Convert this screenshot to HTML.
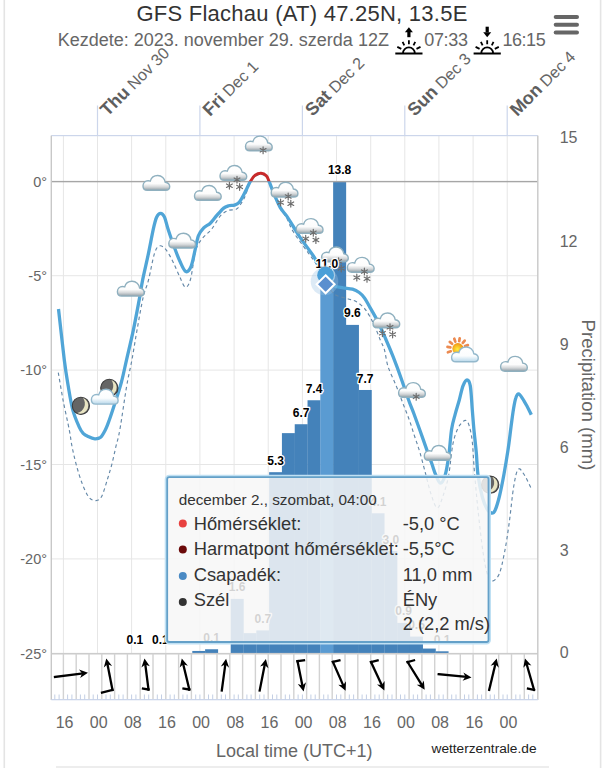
<!DOCTYPE html><html><head><meta charset="utf-8"><style>html,body{margin:0;padding:0;background:#fff;width:603px;height:768px;overflow:hidden}svg{display:block}text{font-family:"Liberation Sans",sans-serif}</style></head><body>
<svg width="603" height="768" viewBox="0 0 603 768">
<defs>
<linearGradient id="cg" x1="0" y1="0" x2="0" y2="1"><stop offset="0" stop-color="#fff"/><stop offset="0.55" stop-color="#fcfcfc"/><stop offset="0.78" stop-color="#d3d6d8"/><stop offset="1" stop-color="#8e9ca4"/></linearGradient>
<linearGradient id="cb" x1="0" y1="0" x2="0" y2="1"><stop offset="0" stop-color="#fff"/><stop offset="0.6" stop-color="#fbfdfe"/><stop offset="1" stop-color="#b7d7ea"/></linearGradient>
<radialGradient id="sun" cx="0.45" cy="0.55" r="0.6"><stop offset="0" stop-color="#ffef3a"/><stop offset="1" stop-color="#f08a10"/></radialGradient>
<clipPath id="above"><rect x="0" y="0" width="603" height="181.3"/></clipPath>
<clipPath id="below"><rect x="0" y="181.3" width="603" height="600"/></clipPath>
<symbol id="cloud" viewBox="0 0 28 16" overflow="visible"><path d="M4.8,15.3 C2,15.3 0.5,13.4 0.5,10.9 C0.5,8 2.7,5.7 5.6,5.7 C6.4,5.7 7.1,5.8 7.8,6.1 C8.7,2.7 11.6,0.5 15.2,0.5 C19.2,0.5 22.3,3.4 22.7,7.2 C25.4,7.6 27.2,9.6 27.2,11.6 C27.2,13.8 25.6,15.3 23.2,15.3 Z" fill="url(#cg)" stroke="#8fb0bf" stroke-width="1.4"/></symbol>
<symbol id="cloudb" viewBox="0 0 28 16" overflow="visible"><path d="M4.8,15.3 C2,15.3 0.5,13.4 0.5,10.9 C0.5,8 2.7,5.7 5.6,5.7 C6.4,5.7 7.1,5.8 7.8,6.1 C8.7,2.7 11.6,0.5 15.2,0.5 C19.2,0.5 22.3,3.4 22.7,7.2 C25.4,7.6 27.2,9.6 27.2,11.6 C27.2,13.8 25.6,15.3 23.2,15.3 Z" fill="url(#cb)" stroke="#93b8cc" stroke-width="1.4"/></symbol>
<symbol id="flake" viewBox="-4 -4 8 8" overflow="visible"><g stroke="#6d6d6d" stroke-width="1.2" stroke-linecap="round"><path d="M0,-3.4V3.4M-2.9,-1.7L2.9,1.7M-2.9,1.7L2.9,-1.7"/></g></symbol>
<symbol id="moon" viewBox="-10 -10 20 20" overflow="visible"><circle r="8.6" fill="#656565" stroke="#3c3c3c" stroke-width="1.1"/><path d="M2.2,-7.9 A8.1,8.1 0 1 1 -3.6,7.3 A9.85,9.85 0 0 0 2.2,-7.9 Z" fill="#e9e5c3"/></symbol>
</defs>
<rect x="3.5" y="0" width="1.6" height="768" fill="#e4e4e4"/>
<rect x="599.8" y="0" width="1.6" height="768" fill="#e4e4e4"/>
<rect x="56" y="766.3" width="493" height="1.4" fill="#e6e6e6"/>
<text x="302" y="20.8" text-anchor="middle" font-size="22" letter-spacing="0.25" fill="#333">GFS Flachau (AT) 47.25N, 13.5E</text>
<text x="57.7" y="45.6" font-size="18" fill="#666">Kezdete: 2023. november 29. szerda 12Z</text>
<g transform="translate(408.9,0)" stroke="#000" fill="none"><path d="M-4,32.3 L0,27.3 L4,32.3 Z" fill="#000" stroke="none"/><rect x="-1.6" y="31.5" width="3.2" height="5.7" fill="#000" stroke="none"/><g stroke-width="1.8"><path d="M0,40.2V44.2 M-6.3,41.9L-4.6,45.3 M6.3,41.9L4.6,45.3 M-11.6,46.9L-7.6,48.9 M11.6,46.9L7.6,48.9"/><path d="M-5.9,53.3 A5.9,5.9 0 0 1 5.9,53.3"/><path d="M-13.6,53.5H13.6" stroke-width="2"/></g></g>
<text x="424.2" y="45.6" font-size="18" fill="#666" textLength="43.8">07:33</text>
<g transform="translate(487.2,0)" stroke="#000" fill="none"><path d="M-4,32.2 L0,37.2 L4,32.2 Z" fill="#000" stroke="none"/><rect x="-1.6" y="26.7" width="3.2" height="5.7" fill="#000" stroke="none"/><g stroke-width="1.8"><path d="M0,40.2V44.2 M-6.3,41.9L-4.6,45.3 M6.3,41.9L4.6,45.3 M-11.6,46.9L-7.6,48.9 M11.6,46.9L7.6,48.9"/><path d="M-5.9,53.3 A5.9,5.9 0 0 1 5.9,53.3"/><path d="M-13.6,53.5H13.6" stroke-width="2"/></g></g>
<text x="502.4" y="45.6" font-size="18" fill="#666" textLength="43.3">16:15</text>
<rect x="553.7" y="14.9" width="25.3" height="4" rx="2" fill="#666"/>
<rect x="553.7" y="22.7" width="25.3" height="4" rx="2" fill="#666"/>
<rect x="553.7" y="30.6" width="25.3" height="4" rx="2" fill="#666"/>
<rect x="96.9" y="105.5" width="1.2" height="30.5" fill="#ccd6eb"/>
<text transform="translate(107.5,117) rotate(-45)" font-size="16.2" fill="#666"><tspan font-weight="bold" font-size="18" fill="#5e5e5e">Thu</tspan> Nov 30</text>
<rect x="199.3" y="105.5" width="1.2" height="30.5" fill="#ccd6eb"/>
<text transform="translate(209.9,117) rotate(-45)" font-size="16.2" fill="#666"><tspan font-weight="bold" font-size="18" fill="#5e5e5e">Fri</tspan> Dec 1</text>
<rect x="301.8" y="105.5" width="1.2" height="30.5" fill="#ccd6eb"/>
<text transform="translate(312.4,117) rotate(-45)" font-size="16.2" fill="#666"><tspan font-weight="bold" font-size="18" fill="#5e5e5e">Sat</tspan> Dec 2</text>
<rect x="404.2" y="105.5" width="1.2" height="30.5" fill="#ccd6eb"/>
<text transform="translate(414.8,117) rotate(-45)" font-size="16.2" fill="#666"><tspan font-weight="bold" font-size="18" fill="#5e5e5e">Sun</tspan> Dec 3</text>
<rect x="506.6" y="105.5" width="1.2" height="30.5" fill="#ccd6eb"/>
<text transform="translate(517.2,117) rotate(-45)" font-size="16.2" fill="#666"><tspan font-weight="bold" font-size="18" fill="#5e5e5e">Mon</tspan> Dec 4</text>
<rect x="62.9" y="135.6" width="1" height="518.1" fill="#e6e6e6"/>
<rect x="97.0" y="135.6" width="1" height="518.1" fill="#e6e6e6"/>
<rect x="131.1" y="135.6" width="1" height="518.1" fill="#e6e6e6"/>
<rect x="165.3" y="135.6" width="1" height="518.1" fill="#e6e6e6"/>
<rect x="199.4" y="135.6" width="1" height="518.1" fill="#e6e6e6"/>
<rect x="233.6" y="135.6" width="1" height="518.1" fill="#e6e6e6"/>
<rect x="267.7" y="135.6" width="1" height="518.1" fill="#e6e6e6"/>
<rect x="301.9" y="135.6" width="1" height="518.1" fill="#e6e6e6"/>
<rect x="336.0" y="135.6" width="1" height="518.1" fill="#e6e6e6"/>
<rect x="370.2" y="135.6" width="1" height="518.1" fill="#e6e6e6"/>
<rect x="404.3" y="135.6" width="1" height="518.1" fill="#e6e6e6"/>
<rect x="438.4" y="135.6" width="1" height="518.1" fill="#e6e6e6"/>
<rect x="472.6" y="135.6" width="1" height="518.1" fill="#e6e6e6"/>
<rect x="506.7" y="135.6" width="1" height="518.1" fill="#e6e6e6"/>
<rect x="51.3" y="275.2" width="486.5" height="1" fill="#e6e6e6"/>
<rect x="51.3" y="369.6" width="486.5" height="1" fill="#e6e6e6"/>
<rect x="51.3" y="464.0" width="486.5" height="1" fill="#e6e6e6"/>
<rect x="51.3" y="558.4" width="486.5" height="1" fill="#e6e6e6"/>
<rect x="192.30" y="650.96" width="13.00" height="2.74" fill="#4482ba"/>
<rect x="205.10" y="649.25" width="13.00" height="4.45" fill="#4482ba"/>
<rect x="230.71" y="598.90" width="13.00" height="54.80" fill="#4482ba"/>
<rect x="243.51" y="633.15" width="13.00" height="20.55" fill="#4482ba"/>
<rect x="256.32" y="630.41" width="13.00" height="23.29" fill="#4482ba"/>
<rect x="269.12" y="472.18" width="13.00" height="181.52" fill="#4482ba"/>
<rect x="281.92" y="433.13" width="13.00" height="220.57" fill="#4482ba"/>
<rect x="294.73" y="424.23" width="13.00" height="229.48" fill="#4482ba"/>
<rect x="307.53" y="400.25" width="13.00" height="253.45" fill="#4482ba"/>
<rect x="320.34" y="276.95" width="13.00" height="376.75" fill="#5a9bd2"/>
<rect x="333.14" y="181.05" width="13.00" height="472.65" fill="#4482ba"/>
<rect x="345.94" y="324.90" width="13.00" height="328.80" fill="#4482ba"/>
<rect x="358.75" y="389.98" width="13.00" height="263.73" fill="#4482ba"/>
<rect x="371.55" y="513.28" width="13.00" height="140.42" fill="#4482ba"/>
<rect x="384.36" y="550.95" width="13.00" height="102.75" fill="#4482ba"/>
<rect x="397.16" y="622.88" width="13.00" height="30.83" fill="#4482ba"/>
<rect x="409.96" y="636.58" width="13.00" height="17.12" fill="#4482ba"/>
<rect x="422.77" y="648.56" width="13.00" height="5.14" fill="#4482ba"/>
<rect x="435.57" y="651.30" width="13.00" height="2.40" fill="#4482ba"/>
<rect x="51.3" y="135.0" width="486.5" height="1.2" fill="#ccd6eb"/>
<rect x="51.3" y="180.9" width="486.5" height="1.4" fill="#a6a6a6"/>
<rect x="51.3" y="652.9" width="486.5" height="1.6" fill="#ccc"/>
<rect x="50.6" y="135.6" width="1.4" height="564.4" fill="#c8c8c8"/>
<rect x="537.1" y="135.6" width="1.4" height="564.4" fill="#c8c8c8"/>
<path d="M58.3,372.6 C59.1,377.1 61.2,390.2 63.0,399.8 C64.8,409.4 67.8,422.1 69.3,430.0 C70.8,437.9 71.0,441.6 72.2,447.4 C73.4,453.2 74.7,458.8 76.3,464.8 C77.9,470.8 80.0,478.0 82.1,483.4 C84.2,488.8 86.7,494.4 89.0,497.3 C91.3,500.2 93.9,500.8 96.0,500.6 C98.1,500.4 99.9,499.8 101.8,496.2 C103.7,492.6 105.9,484.0 107.6,478.8 C109.2,473.6 110.3,470.0 111.7,464.8 C113.1,459.6 114.4,453.2 115.7,447.4 C117.0,441.6 118.0,440.1 119.8,430.0 C121.6,419.9 124.6,398.2 126.6,386.5 C128.6,374.8 130.1,369.6 131.9,360.0 C133.7,350.4 135.3,339.5 137.2,329.0 C139.1,318.5 141.3,305.4 143.2,297.2 C145.1,289.0 146.6,287.4 148.5,280.0 C150.4,272.6 152.7,258.7 154.6,253.0 C156.5,247.3 157.9,246.2 159.9,245.8 C161.9,245.4 164.3,247.7 166.5,250.4 C168.7,253.2 171.0,257.9 173.2,262.3 C175.4,266.7 177.8,272.9 179.8,277.0 C181.8,281.1 183.6,286.9 185.4,287.2 C187.2,287.5 188.9,285.1 190.6,279.0 C192.3,272.9 193.8,257.1 195.7,250.4 C197.6,243.7 199.7,242.0 202.3,238.5 C205.0,235.0 208.6,233.0 211.6,229.2 C214.6,225.4 217.8,218.8 220.6,215.7 C223.4,212.6 225.9,211.5 228.6,210.4 C231.2,209.3 234.3,210.4 236.5,209.1 C238.7,207.8 240.2,204.8 241.8,202.4 C243.4,200.0 244.5,197.7 245.8,194.5 C247.1,191.3 248.2,186.2 249.8,183.2 C251.4,180.2 253.2,177.9 255.1,176.5 C257.0,175.1 259.2,174.4 261.1,174.5 C263.0,174.6 264.9,175.6 266.4,177.0 C267.9,178.4 268.7,180.0 270.0,183.0 C271.3,186.0 272.3,190.8 274.0,195.0 C275.7,199.2 278.2,204.7 280.3,208.5 C282.4,212.3 284.4,214.1 286.6,218.0 C288.8,221.9 290.0,226.4 293.3,231.8 C296.6,237.2 303.2,245.8 306.5,250.4 C309.8,255.1 311.3,256.9 313.2,259.7 C315.1,262.5 316.0,263.6 318.0,267.0 C320.0,270.4 322.3,275.5 325.0,280.0 C327.7,284.5 330.3,290.8 334.0,293.9 C337.7,297.0 343.4,297.2 347.2,298.5 C350.9,299.8 353.6,300.1 356.5,301.8 C359.4,303.5 362.3,306.1 364.5,308.5 C366.7,310.9 368.0,313.3 369.8,316.4 C371.6,319.5 373.3,323.0 375.1,327.0 C376.9,331.0 378.8,336.5 380.4,340.3 C381.9,344.1 383.1,345.2 384.4,349.6 C385.7,354.0 386.1,360.6 388.0,366.5 C389.9,372.4 393.5,379.1 395.9,385.1 C398.3,391.1 400.3,396.6 402.5,402.3 C404.7,408.1 407.2,414.0 409.2,419.6 C411.2,425.2 412.7,430.5 414.5,436.0 C416.3,441.5 418.1,446.2 420.0,452.7 C421.9,459.2 424.1,468.1 425.9,475.0 C427.7,481.9 429.1,488.5 431.0,494.0 C432.9,499.5 435.2,507.7 437.2,508.0 C439.2,508.3 441.1,501.5 443.0,496.0 C444.9,490.5 447.1,483.6 448.7,475.0 C450.3,466.4 451.3,452.1 452.8,444.5 C454.3,436.9 455.9,433.0 457.5,429.3 C459.1,425.6 460.7,423.8 462.2,422.3 C463.7,420.8 465.1,419.9 466.3,420.5 C467.5,421.1 468.2,422.4 469.2,425.8 C470.2,429.2 471.3,433.2 472.2,441.0 C473.1,448.8 473.5,461.2 474.5,472.7 C475.5,484.2 476.6,496.8 478.0,510.0 C479.4,523.2 481.4,541.2 483.0,552.0 C484.6,562.8 486.0,570.1 487.5,575.0 C489.0,579.9 489.9,581.4 491.9,581.2 C493.8,581.0 497.1,578.9 499.2,574.0 C501.3,569.1 502.9,560.5 504.6,552.0 C506.3,543.5 507.7,533.8 509.2,522.9 C510.7,512.0 512.2,495.5 513.7,486.5 C515.2,477.5 516.5,470.9 518.3,469.1 C520.1,467.3 522.6,472.3 524.7,475.5 C526.8,478.7 530.0,486.2 531.1,488.3" fill="none" stroke="#6488a8" stroke-width="1.15" stroke-dasharray="3.5,3"/>
<path d="M58.5,309.0 C59.5,317.5 62.7,347.1 64.3,360.0 C65.9,372.9 66.9,378.1 68.3,386.5 C69.7,394.9 71.1,403.8 72.9,410.4 C74.7,417.0 77.2,422.5 78.9,426.3 C80.6,430.1 81.7,431.7 83.2,433.4 C84.8,435.1 86.3,435.7 88.2,436.6 C90.1,437.5 92.7,438.7 94.8,438.8 C96.9,438.9 98.8,438.8 100.6,437.3 C102.3,435.8 103.8,432.9 105.3,430.0 C106.8,427.1 107.8,424.1 109.4,419.7 C111.0,415.3 112.7,410.0 114.7,403.8 C116.7,397.6 119.3,389.9 121.3,382.5 C123.3,375.1 124.6,368.3 126.6,359.6 C128.6,350.9 131.2,340.3 133.3,330.4 C135.4,320.4 137.6,308.4 139.2,299.9 C140.8,291.4 141.2,287.0 142.7,279.6 C144.2,272.2 146.2,264.1 148.0,255.7 C149.8,247.3 151.9,235.6 153.3,229.2 C154.7,222.8 155.4,219.8 156.6,217.2 C157.8,214.5 159.3,213.3 160.6,213.3 C161.9,213.3 163.2,214.3 164.5,217.2 C165.8,220.1 166.8,225.4 168.5,230.5 C170.2,235.6 172.6,242.6 174.5,247.7 C176.4,252.8 177.9,257.0 179.8,261.0 C181.7,265.0 183.9,270.7 185.8,271.6 C187.7,272.5 189.6,269.8 191.1,266.3 C192.6,262.8 193.8,255.5 195.0,250.4 C196.2,245.3 197.0,239.6 198.4,235.8 C199.8,232.1 201.7,230.0 203.7,227.9 C205.7,225.8 208.2,225.2 210.3,223.2 C212.5,221.2 214.4,218.2 216.6,215.7 C218.8,213.2 221.3,210.1 223.3,208.4 C225.3,206.8 226.7,206.4 228.6,205.8 C230.5,205.2 232.7,205.7 234.5,205.1 C236.3,204.5 237.8,203.9 239.2,202.4 C240.6,200.9 241.9,198.2 243.2,195.8 C244.5,193.4 245.9,190.3 247.1,187.9 C248.3,185.5 249.2,183.3 250.5,181.2 C251.8,179.1 253.3,176.6 255.1,175.3 C256.9,174.0 259.2,173.2 261.1,173.3 C263.0,173.4 265.1,174.6 266.4,175.9 C267.7,177.2 267.8,178.3 269.0,181.2 C270.2,184.1 271.8,188.8 273.7,193.2 C275.6,197.6 278.1,203.9 280.3,207.7 C282.5,211.5 284.4,212.8 286.6,215.9 C288.8,219.0 291.1,223.0 293.3,226.5 C295.5,230.0 297.7,233.8 299.9,237.1 C302.1,240.4 304.3,243.3 306.5,246.4 C308.7,249.5 311.4,253.0 313.2,255.7 C315.0,258.3 315.7,260.1 317.1,262.3 C318.5,264.5 320.1,266.9 321.5,269.0 C322.9,271.1 324.2,273.0 325.5,275.0 C326.8,277.0 328.1,279.2 329.5,281.0 C330.9,282.8 331.7,284.8 334.0,285.9 C336.3,287.0 340.2,287.3 343.3,287.9 C346.4,288.4 349.9,288.4 352.5,289.2 C355.1,290.0 357.2,291.1 359.2,292.5 C361.2,293.9 362.7,295.5 364.5,297.9 C366.3,300.3 368.0,304.0 369.8,307.1 C371.6,310.2 373.3,313.1 375.1,316.4 C376.9,319.7 378.6,323.2 380.4,327.0 C382.2,330.8 383.5,334.0 385.7,339.0 C387.9,344.0 390.7,350.6 393.3,357.2 C395.9,363.8 398.7,371.4 401.2,378.5 C403.7,385.6 406.4,393.8 408.5,399.7 C410.6,405.6 412.1,408.9 414.0,414.0 C415.9,419.1 417.8,424.4 420.0,430.5 C422.2,436.6 425.1,444.9 427.0,450.4 C428.9,455.9 430.2,459.2 431.7,463.3 C433.2,467.4 434.3,471.7 435.8,475.0 C437.3,478.3 438.9,483.2 440.5,483.2 C442.1,483.2 443.8,479.5 445.2,475.0 C446.6,470.5 447.6,463.9 448.7,456.3 C449.8,448.7 450.5,436.3 451.6,429.3 C452.7,422.3 453.9,419.0 455.2,414.1 C456.5,409.2 458.0,404.7 459.3,400.0 C460.6,395.3 461.7,389.2 463.0,385.9 C464.3,382.6 465.8,380.0 467.0,380.0 C468.2,380.0 469.4,380.9 470.3,385.9 C471.2,390.9 471.7,402.6 472.3,409.8 C472.9,417.0 473.2,422.2 473.9,429.3 C474.6,436.4 475.6,445.1 476.3,452.7 C477.0,460.3 477.0,467.6 478.0,475.0 C479.0,482.4 480.8,491.3 482.3,497.0 C483.8,502.7 485.5,506.3 487.0,509.0 C488.5,511.7 490.2,512.8 491.5,513.0 C492.8,513.2 493.7,513.3 495.0,510.5 C496.3,507.7 498.0,502.1 499.5,496.0 C501.0,489.9 502.6,481.7 504.0,474.0 C505.4,466.3 506.8,457.8 508.0,450.0 C509.2,442.2 510.1,433.8 511.0,427.0 C511.9,420.2 512.7,413.8 513.5,409.0 C514.3,404.2 514.9,400.5 515.8,398.0 C516.6,395.5 517.5,393.8 518.6,393.9 C519.7,394.0 521.2,396.5 522.6,398.6 C524.0,400.7 525.8,404.0 527.3,406.7 C528.8,409.4 530.6,413.4 531.3,414.8" fill="none" stroke="#50a5d7" stroke-width="3.3" clip-path="url(#below)" stroke-linejoin="round"/>
<path d="M58.5,309.0 C59.5,317.5 62.7,347.1 64.3,360.0 C65.9,372.9 66.9,378.1 68.3,386.5 C69.7,394.9 71.1,403.8 72.9,410.4 C74.7,417.0 77.2,422.5 78.9,426.3 C80.6,430.1 81.7,431.7 83.2,433.4 C84.8,435.1 86.3,435.7 88.2,436.6 C90.1,437.5 92.7,438.7 94.8,438.8 C96.9,438.9 98.8,438.8 100.6,437.3 C102.3,435.8 103.8,432.9 105.3,430.0 C106.8,427.1 107.8,424.1 109.4,419.7 C111.0,415.3 112.7,410.0 114.7,403.8 C116.7,397.6 119.3,389.9 121.3,382.5 C123.3,375.1 124.6,368.3 126.6,359.6 C128.6,350.9 131.2,340.3 133.3,330.4 C135.4,320.4 137.6,308.4 139.2,299.9 C140.8,291.4 141.2,287.0 142.7,279.6 C144.2,272.2 146.2,264.1 148.0,255.7 C149.8,247.3 151.9,235.6 153.3,229.2 C154.7,222.8 155.4,219.8 156.6,217.2 C157.8,214.5 159.3,213.3 160.6,213.3 C161.9,213.3 163.2,214.3 164.5,217.2 C165.8,220.1 166.8,225.4 168.5,230.5 C170.2,235.6 172.6,242.6 174.5,247.7 C176.4,252.8 177.9,257.0 179.8,261.0 C181.7,265.0 183.9,270.7 185.8,271.6 C187.7,272.5 189.6,269.8 191.1,266.3 C192.6,262.8 193.8,255.5 195.0,250.4 C196.2,245.3 197.0,239.6 198.4,235.8 C199.8,232.1 201.7,230.0 203.7,227.9 C205.7,225.8 208.2,225.2 210.3,223.2 C212.5,221.2 214.4,218.2 216.6,215.7 C218.8,213.2 221.3,210.1 223.3,208.4 C225.3,206.8 226.7,206.4 228.6,205.8 C230.5,205.2 232.7,205.7 234.5,205.1 C236.3,204.5 237.8,203.9 239.2,202.4 C240.6,200.9 241.9,198.2 243.2,195.8 C244.5,193.4 245.9,190.3 247.1,187.9 C248.3,185.5 249.2,183.3 250.5,181.2 C251.8,179.1 253.3,176.6 255.1,175.3 C256.9,174.0 259.2,173.2 261.1,173.3 C263.0,173.4 265.1,174.6 266.4,175.9 C267.7,177.2 267.8,178.3 269.0,181.2 C270.2,184.1 271.8,188.8 273.7,193.2 C275.6,197.6 278.1,203.9 280.3,207.7 C282.5,211.5 284.4,212.8 286.6,215.9 C288.8,219.0 291.1,223.0 293.3,226.5 C295.5,230.0 297.7,233.8 299.9,237.1 C302.1,240.4 304.3,243.3 306.5,246.4 C308.7,249.5 311.4,253.0 313.2,255.7 C315.0,258.3 315.7,260.1 317.1,262.3 C318.5,264.5 320.1,266.9 321.5,269.0 C322.9,271.1 324.2,273.0 325.5,275.0 C326.8,277.0 328.1,279.2 329.5,281.0 C330.9,282.8 331.7,284.8 334.0,285.9 C336.3,287.0 340.2,287.3 343.3,287.9 C346.4,288.4 349.9,288.4 352.5,289.2 C355.1,290.0 357.2,291.1 359.2,292.5 C361.2,293.9 362.7,295.5 364.5,297.9 C366.3,300.3 368.0,304.0 369.8,307.1 C371.6,310.2 373.3,313.1 375.1,316.4 C376.9,319.7 378.6,323.2 380.4,327.0 C382.2,330.8 383.5,334.0 385.7,339.0 C387.9,344.0 390.7,350.6 393.3,357.2 C395.9,363.8 398.7,371.4 401.2,378.5 C403.7,385.6 406.4,393.8 408.5,399.7 C410.6,405.6 412.1,408.9 414.0,414.0 C415.9,419.1 417.8,424.4 420.0,430.5 C422.2,436.6 425.1,444.9 427.0,450.4 C428.9,455.9 430.2,459.2 431.7,463.3 C433.2,467.4 434.3,471.7 435.8,475.0 C437.3,478.3 438.9,483.2 440.5,483.2 C442.1,483.2 443.8,479.5 445.2,475.0 C446.6,470.5 447.6,463.9 448.7,456.3 C449.8,448.7 450.5,436.3 451.6,429.3 C452.7,422.3 453.9,419.0 455.2,414.1 C456.5,409.2 458.0,404.7 459.3,400.0 C460.6,395.3 461.7,389.2 463.0,385.9 C464.3,382.6 465.8,380.0 467.0,380.0 C468.2,380.0 469.4,380.9 470.3,385.9 C471.2,390.9 471.7,402.6 472.3,409.8 C472.9,417.0 473.2,422.2 473.9,429.3 C474.6,436.4 475.6,445.1 476.3,452.7 C477.0,460.3 477.0,467.6 478.0,475.0 C479.0,482.4 480.8,491.3 482.3,497.0 C483.8,502.7 485.5,506.3 487.0,509.0 C488.5,511.7 490.2,512.8 491.5,513.0 C492.8,513.2 493.7,513.3 495.0,510.5 C496.3,507.7 498.0,502.1 499.5,496.0 C501.0,489.9 502.6,481.7 504.0,474.0 C505.4,466.3 506.8,457.8 508.0,450.0 C509.2,442.2 510.1,433.8 511.0,427.0 C511.9,420.2 512.7,413.8 513.5,409.0 C514.3,404.2 514.9,400.5 515.8,398.0 C516.6,395.5 517.5,393.8 518.6,393.9 C519.7,394.0 521.2,396.5 522.6,398.6 C524.0,400.7 525.8,404.0 527.3,406.7 C528.8,409.4 530.6,413.4 531.3,414.8" fill="none" stroke="#c82a2a" stroke-width="2.9" clip-path="url(#above)" stroke-linejoin="round"/>
<use href="#moon" x="70.9" y="395.8" width="20" height="20"/>
<use href="#moon" x="99.3" y="377.9" width="20" height="20"/>
<use href="#cloudb" x="90.9" y="388.8" width="28" height="16"/>
<use href="#cloud" x="116.9" y="280.8" width="28" height="16"/>
<use href="#cloud" x="142.5" y="175.0" width="28" height="16"/>
<use href="#cloud" x="168.3" y="232.7" width="28" height="16"/>
<use href="#cloud" x="194.0" y="185.0" width="28" height="16"/>
<use href="#cloud" x="219.5" y="165.0" width="28" height="16"/><use href="#flake" x="233.0" y="175.7" width="8" height="8"/><use href="#flake" x="225.4" y="181.7" width="8" height="8"/><use href="#flake" x="235.6" y="182.9" width="8" height="8"/>
<use href="#cloud" x="245.0" y="135.6" width="28" height="16"/><use href="#flake" x="259.1" y="146.3" width="8" height="8"/>
<use href="#cloud" x="270.7" y="181.8" width="28" height="16"/><use href="#flake" x="284.2" y="192.5" width="8" height="8"/><use href="#flake" x="276.6" y="198.5" width="8" height="8"/><use href="#flake" x="286.8" y="199.7" width="8" height="8"/>
<use href="#cloud" x="295.8" y="218.1" width="28" height="16"/><use href="#flake" x="309.3" y="228.8" width="8" height="8"/><use href="#flake" x="301.7" y="234.8" width="8" height="8"/><use href="#flake" x="311.9" y="236.0" width="8" height="8"/>
<use href="#cloud" x="321.1" y="246.5" width="28" height="16"/><use href="#flake" x="334.6" y="257.2" width="8" height="8"/><use href="#flake" x="327.0" y="263.2" width="8" height="8"/><use href="#flake" x="337.2" y="264.4" width="8" height="8"/>
<use href="#cloud" x="346.9" y="256.9" width="28" height="16"/><use href="#flake" x="360.4" y="267.6" width="8" height="8"/><use href="#flake" x="352.8" y="273.6" width="8" height="8"/><use href="#flake" x="363.0" y="274.8" width="8" height="8"/>
<use href="#cloud" x="372.5" y="312.5" width="28" height="16"/><use href="#flake" x="386.0" y="323.2" width="8" height="8"/><use href="#flake" x="378.4" y="329.2" width="8" height="8"/><use href="#flake" x="388.6" y="330.4" width="8" height="8"/>
<use href="#cloud" x="398.1" y="382.1" width="28" height="16"/><use href="#flake" x="412.2" y="392.8" width="8" height="8"/>
<use href="#cloud" x="423.8" y="445.0" width="28" height="16"/>
<g transform="translate(457.9,348.7)"><g stroke="#ec8a50" stroke-width="2.7" stroke-linecap="round"><path d="M-7.1,2.6 L-10.0,3.6"/><path d="M-7.5,-1.3 L-10.4,-1.8"/><path d="M-5.8,-4.9 L-8.1,-6.8"/><path d="M-2.6,-7.1 L-3.6,-10.0"/><path d="M1.3,-7.5 L1.8,-10.4"/><path d="M4.9,-5.8 L6.8,-8.1"/><path d="M7.1,-2.6 L10.0,-3.6"/><path d="M7.5,1.3 L10.4,1.8"/></g><circle r="5.6" fill="url(#sun)"/></g>
<use href="#cloudb" x="451.1" y="346.5" width="28" height="16"/>
<use href="#moon" x="480.2" y="474.7" width="20" height="20"/>
<use href="#cloud" x="500.1" y="355.9" width="28" height="16"/>
<text x="134.8" y="643.5" text-anchor="middle" font-size="12" font-weight="bold" fill="#000" stroke="#fff" stroke-width="2.5" paint-order="stroke" stroke-linejoin="round">0.1</text>
<text x="160.4" y="643.5" text-anchor="middle" font-size="12" font-weight="bold" fill="#000" stroke="#fff" stroke-width="2.5" paint-order="stroke" stroke-linejoin="round">0.1</text>
<text x="211.6" y="641.7" text-anchor="middle" font-size="12" font-weight="bold" fill="#000" stroke="#fff" stroke-width="2.5" paint-order="stroke" stroke-linejoin="round">0.1</text>
<text x="237.2" y="591.4" text-anchor="middle" font-size="12" font-weight="bold" fill="#000" stroke="#fff" stroke-width="2.5" paint-order="stroke" stroke-linejoin="round">1.6</text>
<text x="262.8" y="622.9" text-anchor="middle" font-size="12" font-weight="bold" fill="#000" stroke="#fff" stroke-width="2.5" paint-order="stroke" stroke-linejoin="round">0.7</text>
<text x="275.6" y="464.7" text-anchor="middle" font-size="12" font-weight="bold" fill="#000" stroke="#fff" stroke-width="2.5" paint-order="stroke" stroke-linejoin="round">5.3</text>
<text x="301.2" y="416.7" text-anchor="middle" font-size="12" font-weight="bold" fill="#000" stroke="#fff" stroke-width="2.5" paint-order="stroke" stroke-linejoin="round">6.7</text>
<text x="314.0" y="392.8" text-anchor="middle" font-size="12" font-weight="bold" fill="#000" stroke="#fff" stroke-width="2.5" paint-order="stroke" stroke-linejoin="round">7.4</text>
<text x="326.8" y="267.9" text-anchor="middle" font-size="12" font-weight="bold" fill="#000" stroke="#fff" stroke-width="2.5" paint-order="stroke" stroke-linejoin="round">11.0</text>
<text x="339.6" y="173.6" text-anchor="middle" font-size="12" font-weight="bold" fill="#000" stroke="#fff" stroke-width="2.5" paint-order="stroke" stroke-linejoin="round">13.8</text>
<text x="352.4" y="317.4" text-anchor="middle" font-size="12" font-weight="bold" fill="#000" stroke="#fff" stroke-width="2.5" paint-order="stroke" stroke-linejoin="round">9.6</text>
<text x="365.2" y="382.5" text-anchor="middle" font-size="12" font-weight="bold" fill="#000" stroke="#fff" stroke-width="2.5" paint-order="stroke" stroke-linejoin="round">7.7</text>
<text x="378.1" y="505.8" text-anchor="middle" font-size="12" font-weight="bold" fill="#000" stroke="#fff" stroke-width="2.5" paint-order="stroke" stroke-linejoin="round">4.1</text>
<text x="390.9" y="543.5" text-anchor="middle" font-size="12" font-weight="bold" fill="#000" stroke="#fff" stroke-width="2.5" paint-order="stroke" stroke-linejoin="round">3.0</text>
<text x="403.7" y="615.4" text-anchor="middle" font-size="12" font-weight="bold" fill="#000" stroke="#fff" stroke-width="2.5" paint-order="stroke" stroke-linejoin="round">0.9</text>
<text x="416.5" y="629.1" text-anchor="middle" font-size="12" font-weight="bold" fill="#000" stroke="#fff" stroke-width="2.5" paint-order="stroke" stroke-linejoin="round">0.5</text>
<text x="442.1" y="643.5" text-anchor="middle" font-size="12" font-weight="bold" fill="#000" stroke="#fff" stroke-width="2.5" paint-order="stroke" stroke-linejoin="round">0.1</text>
<circle cx="324.5" cy="281.5" r="13.8" fill="#9cc3e4" fill-opacity="0.35"/>
<circle cx="325.6" cy="275.2" r="9.6" fill="#d6ebf7" fill-opacity="0.6"/>
<circle cx="325.6" cy="275.2" r="8.4" fill="#4a9fd8"/>
<path d="M325.6,275.3 L334.6,284.3 L325.6,293.3 L316.6,284.3 Z" fill="#5b8fcf" stroke="#fff" stroke-width="2"/>
<rect x="62.7" y="653.7" width="1.4" height="46.3" fill="#d2d2d2"/>
<rect x="75.5" y="653.7" width="1.4" height="46.3" fill="#d2d2d2"/>
<rect x="88.3" y="653.7" width="1.4" height="46.3" fill="#d2d2d2"/>
<rect x="101.1" y="653.7" width="1.4" height="46.3" fill="#d2d2d2"/>
<rect x="113.9" y="653.7" width="1.4" height="46.3" fill="#d2d2d2"/>
<rect x="126.7" y="653.7" width="1.4" height="46.3" fill="#d2d2d2"/>
<rect x="139.5" y="653.7" width="1.4" height="46.3" fill="#d2d2d2"/>
<rect x="152.3" y="653.7" width="1.4" height="46.3" fill="#d2d2d2"/>
<rect x="165.1" y="653.7" width="1.4" height="46.3" fill="#d2d2d2"/>
<rect x="177.9" y="653.7" width="1.4" height="46.3" fill="#d2d2d2"/>
<rect x="190.7" y="653.7" width="1.4" height="46.3" fill="#d2d2d2"/>
<rect x="203.5" y="653.7" width="1.4" height="46.3" fill="#d2d2d2"/>
<rect x="216.3" y="653.7" width="1.4" height="46.3" fill="#d2d2d2"/>
<rect x="229.1" y="653.7" width="1.4" height="46.3" fill="#d2d2d2"/>
<rect x="241.9" y="653.7" width="1.4" height="46.3" fill="#d2d2d2"/>
<rect x="254.7" y="653.7" width="1.4" height="46.3" fill="#d2d2d2"/>
<rect x="267.5" y="653.7" width="1.4" height="46.3" fill="#d2d2d2"/>
<rect x="280.3" y="653.7" width="1.4" height="46.3" fill="#d2d2d2"/>
<rect x="293.1" y="653.7" width="1.4" height="46.3" fill="#d2d2d2"/>
<rect x="305.9" y="653.7" width="1.4" height="46.3" fill="#d2d2d2"/>
<rect x="318.7" y="653.7" width="1.4" height="46.3" fill="#d2d2d2"/>
<rect x="331.5" y="653.7" width="1.4" height="46.3" fill="#d2d2d2"/>
<rect x="344.3" y="653.7" width="1.4" height="46.3" fill="#d2d2d2"/>
<rect x="357.1" y="653.7" width="1.4" height="46.3" fill="#d2d2d2"/>
<rect x="370.0" y="653.7" width="1.4" height="46.3" fill="#d2d2d2"/>
<rect x="382.8" y="653.7" width="1.4" height="46.3" fill="#d2d2d2"/>
<rect x="395.6" y="653.7" width="1.4" height="46.3" fill="#d2d2d2"/>
<rect x="408.4" y="653.7" width="1.4" height="46.3" fill="#d2d2d2"/>
<rect x="421.2" y="653.7" width="1.4" height="46.3" fill="#d2d2d2"/>
<rect x="434.0" y="653.7" width="1.4" height="46.3" fill="#d2d2d2"/>
<rect x="446.8" y="653.7" width="1.4" height="46.3" fill="#d2d2d2"/>
<rect x="459.6" y="653.7" width="1.4" height="46.3" fill="#d2d2d2"/>
<rect x="472.4" y="653.7" width="1.4" height="46.3" fill="#d2d2d2"/>
<rect x="485.2" y="653.7" width="1.4" height="46.3" fill="#d2d2d2"/>
<rect x="498.0" y="653.7" width="1.4" height="46.3" fill="#d2d2d2"/>
<rect x="510.8" y="653.7" width="1.4" height="46.3" fill="#d2d2d2"/>
<rect x="523.6" y="653.7" width="1.4" height="46.3" fill="#d2d2d2"/>
<rect x="51.3" y="699" width="486.5" height="1.3" fill="#ccd6eb"/>
<rect x="54.3" y="694.5" width="1" height="5" fill="#c4cfe4"/>
<rect x="58.6" y="694.5" width="1" height="5" fill="#c4cfe4"/>
<rect x="67.1" y="694.5" width="1" height="5" fill="#c4cfe4"/>
<rect x="71.4" y="694.5" width="1" height="5" fill="#c4cfe4"/>
<rect x="79.9" y="694.5" width="1" height="5" fill="#c4cfe4"/>
<rect x="84.2" y="694.5" width="1" height="5" fill="#c4cfe4"/>
<rect x="92.7" y="694.5" width="1" height="5" fill="#c4cfe4"/>
<rect x="97.0" y="694.5" width="1" height="5" fill="#c4cfe4"/>
<rect x="105.5" y="694.5" width="1" height="5" fill="#c4cfe4"/>
<rect x="109.8" y="694.5" width="1" height="5" fill="#c4cfe4"/>
<rect x="118.3" y="694.5" width="1" height="5" fill="#c4cfe4"/>
<rect x="122.6" y="694.5" width="1" height="5" fill="#c4cfe4"/>
<rect x="131.1" y="694.5" width="1" height="5" fill="#c4cfe4"/>
<rect x="135.4" y="694.5" width="1" height="5" fill="#c4cfe4"/>
<rect x="143.9" y="694.5" width="1" height="5" fill="#c4cfe4"/>
<rect x="148.2" y="694.5" width="1" height="5" fill="#c4cfe4"/>
<rect x="156.8" y="694.5" width="1" height="5" fill="#c4cfe4"/>
<rect x="161.0" y="694.5" width="1" height="5" fill="#c4cfe4"/>
<rect x="169.6" y="694.5" width="1" height="5" fill="#c4cfe4"/>
<rect x="173.8" y="694.5" width="1" height="5" fill="#c4cfe4"/>
<rect x="182.4" y="694.5" width="1" height="5" fill="#c4cfe4"/>
<rect x="186.6" y="694.5" width="1" height="5" fill="#c4cfe4"/>
<rect x="195.2" y="694.5" width="1" height="5" fill="#c4cfe4"/>
<rect x="199.4" y="694.5" width="1" height="5" fill="#c4cfe4"/>
<rect x="208.0" y="694.5" width="1" height="5" fill="#c4cfe4"/>
<rect x="212.2" y="694.5" width="1" height="5" fill="#c4cfe4"/>
<rect x="220.8" y="694.5" width="1" height="5" fill="#c4cfe4"/>
<rect x="225.0" y="694.5" width="1" height="5" fill="#c4cfe4"/>
<rect x="233.6" y="694.5" width="1" height="5" fill="#c4cfe4"/>
<rect x="237.8" y="694.5" width="1" height="5" fill="#c4cfe4"/>
<rect x="246.4" y="694.5" width="1" height="5" fill="#c4cfe4"/>
<rect x="250.6" y="694.5" width="1" height="5" fill="#c4cfe4"/>
<rect x="259.2" y="694.5" width="1" height="5" fill="#c4cfe4"/>
<rect x="263.5" y="694.5" width="1" height="5" fill="#c4cfe4"/>
<rect x="272.0" y="694.5" width="1" height="5" fill="#c4cfe4"/>
<rect x="276.3" y="694.5" width="1" height="5" fill="#c4cfe4"/>
<rect x="284.8" y="694.5" width="1" height="5" fill="#c4cfe4"/>
<rect x="289.1" y="694.5" width="1" height="5" fill="#c4cfe4"/>
<rect x="297.6" y="694.5" width="1" height="5" fill="#c4cfe4"/>
<rect x="301.9" y="694.5" width="1" height="5" fill="#c4cfe4"/>
<rect x="310.4" y="694.5" width="1" height="5" fill="#c4cfe4"/>
<rect x="314.7" y="694.5" width="1" height="5" fill="#c4cfe4"/>
<rect x="323.2" y="694.5" width="1" height="5" fill="#c4cfe4"/>
<rect x="327.5" y="694.5" width="1" height="5" fill="#c4cfe4"/>
<rect x="336.0" y="694.5" width="1" height="5" fill="#c4cfe4"/>
<rect x="340.3" y="694.5" width="1" height="5" fill="#c4cfe4"/>
<rect x="348.8" y="694.5" width="1" height="5" fill="#c4cfe4"/>
<rect x="353.1" y="694.5" width="1" height="5" fill="#c4cfe4"/>
<rect x="361.6" y="694.5" width="1" height="5" fill="#c4cfe4"/>
<rect x="365.9" y="694.5" width="1" height="5" fill="#c4cfe4"/>
<rect x="374.4" y="694.5" width="1" height="5" fill="#c4cfe4"/>
<rect x="378.7" y="694.5" width="1" height="5" fill="#c4cfe4"/>
<rect x="387.2" y="694.5" width="1" height="5" fill="#c4cfe4"/>
<rect x="391.5" y="694.5" width="1" height="5" fill="#c4cfe4"/>
<rect x="400.0" y="694.5" width="1" height="5" fill="#c4cfe4"/>
<rect x="404.3" y="694.5" width="1" height="5" fill="#c4cfe4"/>
<rect x="412.8" y="694.5" width="1" height="5" fill="#c4cfe4"/>
<rect x="417.1" y="694.5" width="1" height="5" fill="#c4cfe4"/>
<rect x="425.6" y="694.5" width="1" height="5" fill="#c4cfe4"/>
<rect x="429.9" y="694.5" width="1" height="5" fill="#c4cfe4"/>
<rect x="438.4" y="694.5" width="1" height="5" fill="#c4cfe4"/>
<rect x="442.7" y="694.5" width="1" height="5" fill="#c4cfe4"/>
<rect x="451.2" y="694.5" width="1" height="5" fill="#c4cfe4"/>
<rect x="455.5" y="694.5" width="1" height="5" fill="#c4cfe4"/>
<rect x="464.0" y="694.5" width="1" height="5" fill="#c4cfe4"/>
<rect x="468.3" y="694.5" width="1" height="5" fill="#c4cfe4"/>
<rect x="476.9" y="694.5" width="1" height="5" fill="#c4cfe4"/>
<rect x="481.1" y="694.5" width="1" height="5" fill="#c4cfe4"/>
<rect x="489.7" y="694.5" width="1" height="5" fill="#c4cfe4"/>
<rect x="493.9" y="694.5" width="1" height="5" fill="#c4cfe4"/>
<rect x="502.5" y="694.5" width="1" height="5" fill="#c4cfe4"/>
<rect x="506.7" y="694.5" width="1" height="5" fill="#c4cfe4"/>
<rect x="515.3" y="694.5" width="1" height="5" fill="#c4cfe4"/>
<rect x="519.5" y="694.5" width="1" height="5" fill="#c4cfe4"/>
<rect x="528.1" y="694.5" width="1" height="5" fill="#c4cfe4"/>
<rect x="532.3" y="694.5" width="1" height="5" fill="#c4cfe4"/>
<path d="M55.0,677.0 L82.1,673.5" stroke="#000" stroke-width="2.3" fill="none" stroke-linecap="square"/><path d="M88.0,672.7 L80.1,678.0 L82.1,673.5 L79.0,669.6 Z" fill="#000"/>
<path d="M112.5,690.0 L107.5,664.3" stroke="#000" stroke-width="2.3" fill="none" stroke-linecap="square"/><path d="M106.3,658.4 L112.1,665.9 L107.5,664.3 L103.8,667.5 Z" fill="#000"/><path d="M112.5,690.0 L102.0,692.5" stroke="#000" stroke-width="2.3" fill="none" stroke-linecap="square"/>
<path d="M148.5,689.5 L145.3,664.4" stroke="#000" stroke-width="2.3" fill="none" stroke-linecap="square"/><path d="M144.5,658.4 L149.8,666.3 L145.3,664.4 L141.4,667.4 Z" fill="#000"/><path d="M148.5,689.5 L143.0,688.5" stroke="#000" stroke-width="2.3" fill="none" stroke-linecap="square"/>
<path d="M189.3,689.5 L183.2,664.2" stroke="#000" stroke-width="2.3" fill="none" stroke-linecap="square"/><path d="M181.8,658.4 L187.9,665.7 L183.2,664.2 L179.7,667.6 Z" fill="#000"/><path d="M189.3,689.5 L183.5,688.5" stroke="#000" stroke-width="2.3" fill="none" stroke-linecap="square"/>
<path d="M221.8,690.5 L225.3,664.6" stroke="#000" stroke-width="2.3" fill="none" stroke-linecap="square"/><path d="M226.1,658.7 L229.1,667.7 L225.3,664.6 L220.8,666.6 Z" fill="#000"/>
<path d="M259.7,690.5 L264.7,664.9" stroke="#000" stroke-width="2.3" fill="none" stroke-linecap="square"/><path d="M265.9,659.0 L268.4,668.2 L264.7,664.9 L260.1,666.5 Z" fill="#000"/>
<path d="M297.5,661.2 L302.4,685.6" stroke="#000" stroke-width="2.3" fill="none" stroke-linecap="square"/><path d="M303.6,691.5 L297.8,684.0 L302.4,685.6 L306.0,682.3 Z" fill="#000"/><path d="M297.5,661.2 L304.0,660.3" stroke="#000" stroke-width="2.3" fill="none" stroke-linecap="square"/>
<path d="M332.9,661.9 L343.2,685.3" stroke="#000" stroke-width="2.3" fill="none" stroke-linecap="square"/><path d="M345.6,690.8 L338.3,684.7 L343.2,685.3 L346.0,681.3 Z" fill="#000"/><path d="M332.9,661.9 L339.4,660.3" stroke="#000" stroke-width="2.3" fill="none" stroke-linecap="square"/>
<path d="M371.0,662.0 L381.8,685.1" stroke="#000" stroke-width="2.3" fill="none" stroke-linecap="square"/><path d="M384.4,690.5 L377.0,684.6 L381.8,685.1 L384.6,681.0 Z" fill="#000"/><path d="M371.0,662.0 L377.6,660.3" stroke="#000" stroke-width="2.3" fill="none" stroke-linecap="square"/>
<path d="M407.6,662.0 L421.6,684.7" stroke="#000" stroke-width="2.3" fill="none" stroke-linecap="square"/><path d="M424.7,689.8 L416.7,684.8 L421.6,684.7 L423.8,680.4 Z" fill="#000"/><path d="M407.6,662.0 L414.0,660.3" stroke="#000" stroke-width="2.3" fill="none" stroke-linecap="square"/>
<path d="M438.7,674.2 L465.5,676.8" stroke="#000" stroke-width="2.3" fill="none" stroke-linecap="square"/><path d="M471.5,677.4 L462.6,680.8 L465.5,676.8 L463.4,672.4 Z" fill="#000"/>
<path d="M489.2,689.8 L495.3,664.3" stroke="#000" stroke-width="2.3" fill="none" stroke-linecap="square"/><path d="M496.7,658.5 L498.8,667.7 L495.3,664.3 L490.6,665.8 Z" fill="#000"/>
<path d="M534.0,689.8 L526.7,664.3" stroke="#000" stroke-width="2.3" fill="none" stroke-linecap="square"/><path d="M525.0,658.5 L531.4,665.5 L526.7,664.3 L523.3,667.8 Z" fill="#000"/><path d="M534.0,689.8 L528.0,688.5" stroke="#000" stroke-width="2.3" fill="none" stroke-linecap="square"/>
<text x="64.6" y="727.5" text-anchor="middle" font-size="16" fill="#666">16</text>
<text x="98.7" y="727.5" text-anchor="middle" font-size="16" fill="#666">00</text>
<text x="132.8" y="727.5" text-anchor="middle" font-size="16" fill="#666">08</text>
<text x="167.0" y="727.5" text-anchor="middle" font-size="16" fill="#666">16</text>
<text x="201.1" y="727.5" text-anchor="middle" font-size="16" fill="#666">00</text>
<text x="235.3" y="727.5" text-anchor="middle" font-size="16" fill="#666">08</text>
<text x="269.4" y="727.5" text-anchor="middle" font-size="16" fill="#666">16</text>
<text x="303.6" y="727.5" text-anchor="middle" font-size="16" fill="#666">00</text>
<text x="337.7" y="727.5" text-anchor="middle" font-size="16" fill="#666">08</text>
<text x="371.9" y="727.5" text-anchor="middle" font-size="16" fill="#666">16</text>
<text x="406.0" y="727.5" text-anchor="middle" font-size="16" fill="#666">00</text>
<text x="440.1" y="727.5" text-anchor="middle" font-size="16" fill="#666">08</text>
<text x="474.3" y="727.5" text-anchor="middle" font-size="16" fill="#666">16</text>
<text x="508.4" y="727.5" text-anchor="middle" font-size="16" fill="#666">00</text>
<text x="294.3" y="756.9" text-anchor="middle" font-size="18" fill="#666">Local time (UTC+1)</text>
<text x="431.5" y="752.8" font-size="13.7" fill="#222">wetterzentrale.de</text>
<text x="47" y="186.5" text-anchor="end" font-size="14.5" fill="#666">0°</text>
<text x="47" y="280.9" text-anchor="end" font-size="14.5" fill="#666">-5°</text>
<text x="47" y="375.3" text-anchor="end" font-size="14.5" fill="#666">-10°</text>
<text x="47" y="469.7" text-anchor="end" font-size="14.5" fill="#666">-15°</text>
<text x="47" y="564.1" text-anchor="end" font-size="14.5" fill="#666">-20°</text>
<text x="47" y="658.5" text-anchor="end" font-size="14.5" fill="#666">-25°</text>
<text x="559.7" y="143.1" font-size="16" fill="#666">15</text>
<text x="559.7" y="247.3" font-size="16" fill="#666">12</text>
<text x="559.7" y="350.1" font-size="16" fill="#666">9</text>
<text x="559.7" y="452.8" font-size="16" fill="#666">6</text>
<text x="559.7" y="555.6" font-size="16" fill="#666">3</text>
<text x="559.7" y="658.3" font-size="16" fill="#666">0</text>
<text transform="translate(582,395) rotate(90)" text-anchor="middle" font-size="18.6" fill="#666">Precipitation (mm)</text>
<g>
<rect x="166.2" y="476.2" width="323.3" height="166.8" rx="3" fill="none" stroke="#bfe0f3" stroke-width="3"/>
<rect x="167.2" y="477.2" width="321.3" height="164.8" rx="2" fill="#f7f7f7" fill-opacity="0.85" stroke="#64a0c8" stroke-width="1.8"/>
<text x="178.7" y="504.6" font-size="15.3" fill="#333">december 2., szombat, 04:00</text>
<circle cx="182.8" cy="523.6" r="4" fill="#e8413f"/>
<text x="193.7" y="529.8" font-size="18.3" fill="#333">Hőmérséklet:</text>
<text x="402.7" y="529.8" font-size="18.3" fill="#333">-5,0 °C</text>
<circle cx="182.8" cy="549.5" r="4" fill="#6b0a0a"/>
<text x="193.7" y="554.6" font-size="18.3" fill="#333">Harmatpont hőmérséklet:</text>
<text x="402.7" y="554.6" font-size="18.3" fill="#333">-5,5°C</text>
<circle cx="182.8" cy="576.0" r="4" fill="#4a8ac4"/>
<text x="193.7" y="581.2" font-size="18.3" fill="#333">Csapadék:</text>
<text x="402.7" y="581.2" font-size="18.3" fill="#333">11,0 mm</text>
<circle cx="182.8" cy="602.0" r="4" fill="#333"/>
<text x="193.7" y="605.8" font-size="18.3" fill="#333">Szél</text>
<text x="402.7" y="605.8" font-size="18.3" fill="#333">ÉNy</text>
<text x="402.7" y="630" font-size="18.3" fill="#333">2 (2,2 m/s)</text>
</g>
</svg></body></html>
